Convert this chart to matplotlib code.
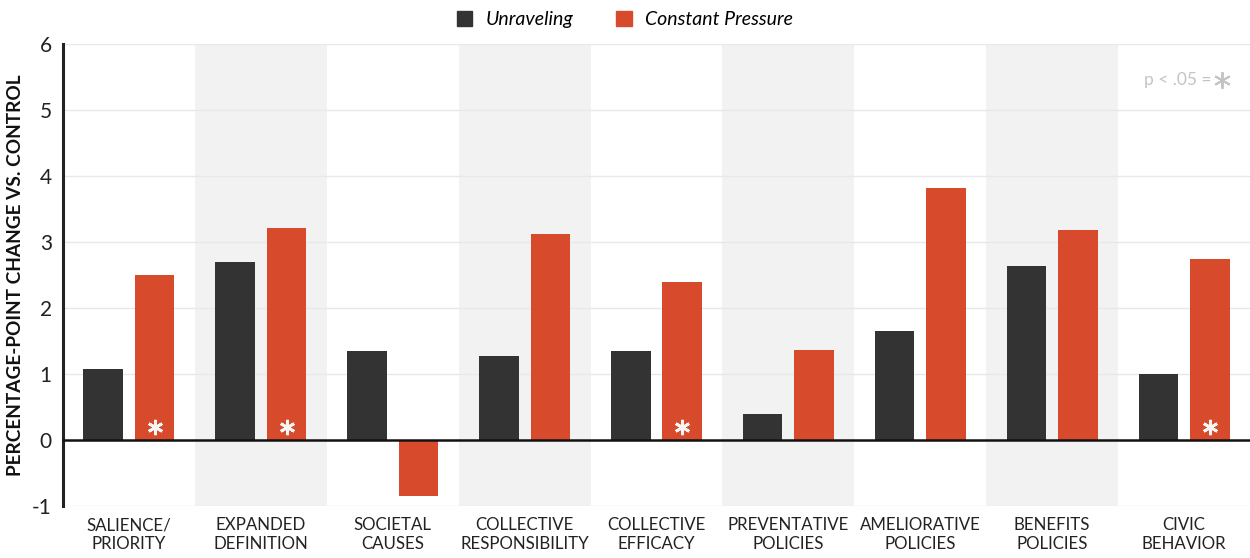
import matplotlib
matplotlib.use('Agg')
import matplotlib.pyplot as plt
from matplotlib.patches import Patch

plt.rcParams['font.family'] = ['Lato', 'DejaVu Sans']
plt.rcParams['axes.unicode_minus'] = False

# 数据
categories = ['SALIENCE/\nPRIORITY', 'EXPANDED\nDEFINITION', 'SOCIETAL\nCAUSES',
              'COLLECTIVE\nRESPONSIBILITY', 'COLLECTIVE\nEFFICACY', 'PREVENTATIVE\nPOLICIES',
              'AMELIORATIVE\nPOLICIES', 'BENEFITS\nPOLICIES', 'CIVIC\nBEHAVIOR']
unraveling = [1.08, 2.70, 1.35, 1.27, 1.35, 0.39, 1.65, 2.64, 1.00]
constant_pressure = [2.50, 3.21, -0.85, 3.12, 2.39, 1.36, 3.82, 3.18, 2.74]
significant = [True, True, False, False, True, False, False, False, True]

dark = '#333333'
orange = '#d84a2c'
star = (6, 2, 0)  # 星号标记

fig = plt.figure(figsize=(12.5, 5.58), dpi=100)
ax = fig.add_axes([0.0504, 0.0932, 0.9496, 0.828])

x = list(range(len(categories)))
w = 0.30
off = 0.195

# 交替灰色背景
for i in x:
    if i % 2 == 1:
        ax.axvspan(i - 0.5, i + 0.5, color='#f2f2f2', zorder=0, lw=0)

for v in range(-1, 7):
    if v != 0:
        ax.axhline(v, color='#e8e8e8', lw=1, zorder=1)

ax.bar([i - off for i in x], unraveling, width=w, color=dark, zorder=3)
ax.bar([i + off for i in x], constant_pressure, width=w, color=orange, zorder=3)

sig_x = [i + off for i, s in enumerate(significant) if s]
ax.plot(sig_x, [0.2] * len(sig_x), ls='none', marker=star, ms=11, mew=2.0,
        color='#f6f6f6', zorder=4)

ax.axhline(0, color='#111111', lw=1.8, zorder=5)

ax.text(8.21, 5.45, 'p < .05 =', color='#c4c4c4', ha='right', va='center', fontsize=12.5)
ax.plot([8.29], [5.45], marker=star, ms=12, mew=1.4, color='#c4c4c4', zorder=4)

ax.set_xlim(-0.5, 8.5)
ax.set_ylim(-1, 6)
ax.set_yticks(range(-1, 7))
ax.set_xticks(x)
ax.set_xticklabels(categories, fontsize=12.2, color='#222222', linespacing=1.25)
ax.tick_params(axis='x', length=0, pad=8)
ax.tick_params(axis='y', length=0, labelsize=15, pad=8, labelcolor='#222222')

for sp in ['top', 'right', 'bottom']:
    ax.spines[sp].set_visible(False)
ax.spines['left'].set_linewidth(2.2)
ax.spines['left'].set_color('#222222')

ax.set_ylabel('PERCENTAGE-POINT CHANGE VS. CONTROL', fontsize=13.7, fontweight='bold',
              color='#111111', labelpad=6)

handles = [Patch(color=dark, label='Unraveling'), Patch(color=orange, label='Constant Pressure')]
leg = fig.legend(handles=handles, loc='center', bbox_to_anchor=(0.5, 0.965), ncol=2,
                 frameon=False, fontsize=14, handlelength=0.8, handleheight=0.8,
                 columnspacing=2.2, handletextpad=0.7)
for t in leg.get_texts():
    t.set_fontstyle('italic')

plt.savefig('out.png', dpi=100)
